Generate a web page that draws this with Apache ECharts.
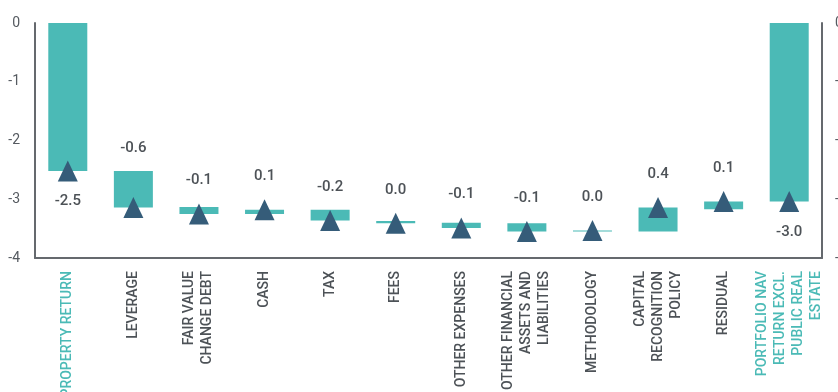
<!DOCTYPE html>
<html>
<head>
<meta charset="utf-8">
<script src="https://cdn.jsdelivr.net/npm/echarts@6/dist/echarts.min.js"></script>
<style>
  html, body { margin: 0; padding: 0; background: #ffffff; }
  #chart { width: 838px; height: 392px; }
</style>
</head>
<body>
<div id="chart"></div>
<script>
// Return attribution steps (percentage points), from property return to portfolio NAV return
const categories = [
  'PROPERTY RETURN',
  'LEVERAGE',
  'FAIR VALUE\nCHANGE DEBT',
  'CASH',
  'TAX',
  'FEES',
  'OTHER EXPENSES',
  'OTHER FINANCIAL\nASSETS AND\nLIABILITIES',
  'METHODOLOGY',
  'CAPITAL\nRECOGNITION\nPOLICY',
  'RESIDUAL',
  'PORTFOLIO NAV\nRETURN EXCL.\nPUBLIC REAL\nESTATE'
];
// level each step starts from
const stepStart = [0, -2.52, -3.13, -3.25, -3.18, -3.37, -3.40, -3.41, -3.55, -3.55, -3.17, 0];
// change contributed by each step
const stepChange = [-2.52, -0.62, -0.12, 0.07, -0.18, -0.04, -0.09, -0.14, 0.02, 0.41, 0.13, -3.04];
// which columns are totals (drawn from zero, labelled below)
const isTotal = [1, 0, 0, 0, 0, 0, 0, 0, 0, 0, 0, 1];
const yTicks = [-4, -3, -2, -1, 0];

const TEAL = '#4bbab6';
const NAVY = '#355c79';
const TEXT = '#4d5257';
const AXIS = '#65696e';

const stepEnd = stepStart.map((s, i) => +(s + stepChange[i]).toFixed(4));
const barTop = stepStart.map((s, i) => Math.max(s, stepEnd[i]));
const barSize = stepStart.map((s, i) => Math.min(s, stepEnd[i]) - Math.max(s, stepEnd[i]));

function fmt(v) {
  const r = Math.round(v * 10) / 10;
  return (r === 0 ? 0 : r).toFixed(1);
}

const chart = echarts.init(document.getElementById('chart'), null, { renderer: 'canvas' });

const TRI_H = 21;

chart.setOption({
  animation: false,
  grid: { left: 35, right: 16, top: 23, bottom: 134, containLabel: false, outerBoundsMode: 'none' },
  xAxis: {
    type: 'category',
    data: categories,
    axisLine: { show: true, onZero: false, lineStyle: { color: AXIS, width: 2 } },
    axisTick: { show: false },
    axisLabel: {
      interval: 0,
      rotate: 90,
      margin: 13,
      fontFamily: 'Roboto',
      fontWeight: 500,
      fontSize: 14,
      lineHeight: 18,
      color: (val, idx) => (isTotal[idx] ? TEAL : TEXT)
    },
    splitLine: { show: false }
  },
  yAxis: [
    {
      type: 'value', min: yTicks[0], max: yTicks[yTicks.length - 1], interval: 1,
      position: 'left',
      axisLine: { show: true, lineStyle: { color: AXIS, width: 2 } },
      axisTick: { show: false },
      splitLine: { show: false },
      axisLabel: { margin: 15, fontFamily: 'Roboto', fontSize: 14, color: '#555a60' }
    },
    {
      type: 'value', min: yTicks[0], max: yTicks[yTicks.length - 1], interval: 1,
      position: 'right',
      axisLine: { show: true, lineStyle: { color: AXIS, width: 2 } },
      axisTick: { show: false },
      splitLine: { show: false },
      axisLabel: { margin: 13, fontFamily: 'Roboto', fontSize: 14, color: '#555a60' }
    }
  ],
  series: [
    {
      name: 'base',
      type: 'bar',
      stack: 'wf',
      barWidth: 39,
      itemStyle: { color: 'transparent' },
      emphasis: { disabled: true },
      data: barTop
    },
    {
      name: 'step',
      type: 'bar',
      stack: 'wf',
      barWidth: 39,
      itemStyle: { color: TEAL },
      emphasis: { disabled: true },
      data: barSize
    },
    {
      name: 'level',
      type: 'scatter',
      symbol: 'triangle',
      symbolSize: [20, TRI_H],
      itemStyle: { color: NAVY, opacity: 1 },
      z: 5,
      data: stepEnd.map((v, i) => [i, v])
    },
    {
      name: 'values',
      type: 'custom',
      z: 6,
      silent: true,
      clip: false,
      encode: { x: 0, y: 2 },
      data: categories.map((c, i) => [i, barTop[i], stepEnd[i], isTotal[i], stepChange[i]]),
      renderItem: function (params, api) {
        const i = api.value(0);
        const top = api.value(1);
        const end = api.value(2);
        const total = api.value(3);
        const change = api.value(4);
        const x = api.coord([i, end])[0];
        const yTop = api.coord([i, top])[1];
        const yEnd = api.coord([i, end])[1];
        let y;
        if (total) {
          y = yEnd + TRI_H / 2 + 20;
        } else {
          y = Math.min(yTop, yEnd - TRI_H / 2) - 23;
        }
        return {
          type: 'text',
          x: x,
          y: y,
          style: {
            text: fmt(change),
            align: 'center',
            verticalAlign: 'middle',
            fill: TEXT,
            fontFamily: 'Roboto',
            fontWeight: 500,
            fontSize: 15
          }
        };
      }
    }
  ]
});
</script>
</body>
</html>
